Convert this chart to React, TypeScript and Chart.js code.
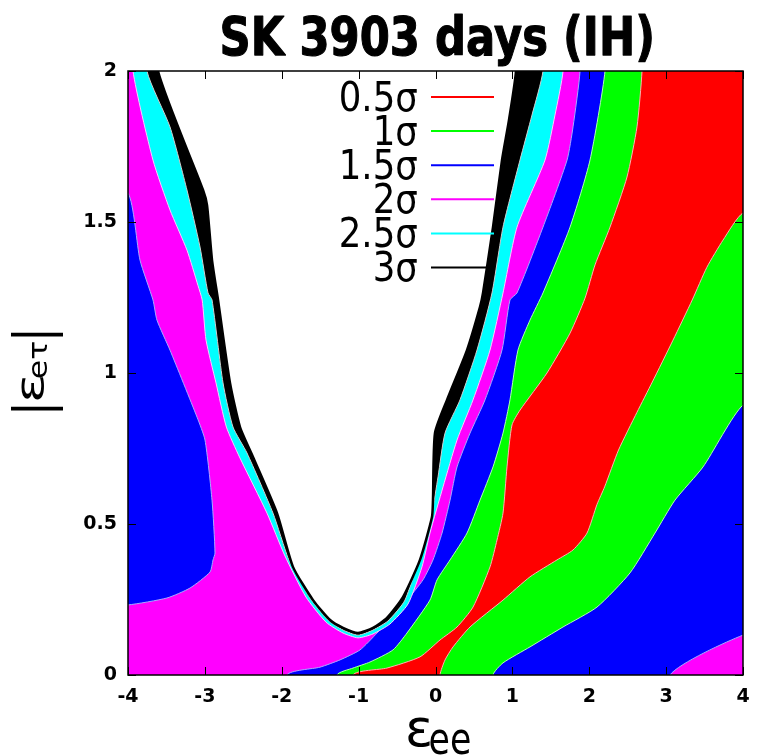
import React, { useEffect, useRef } from 'react';
import { Chart, registerables } from 'chart.js';

Chart.register(...registerables);

// ---------- data ----------
const titleText = 'SK 3903 days (IH)';

const xTicks = [-4, -3, -2, -1, 0, 1, 2, 3, 4];
const xTickLabels = ['-4', '-3', '-2', '-1', '0', '1', '2', '3', '4'];
const yTicks = [0, 0.5, 1, 1.5, 2];
const yTickLabels = ['0', '0.5', '1', '1.5', '2'];

const legendLabels = ['0.5σ', '1σ', '1.5σ', '2σ', '2.5σ', '3σ'];
const legendColors = ['#ff0000', '#00ff00', '#0000ff', '#ff00ff', '#00ffff', '#000000'];

type P = [number, number];

// 3 sigma contour (edge of the excluded white region), left arm top -> bottom -> right arm top
const contour3: P[] = [
  [-3.61, 2.0], [-3.024, 1.606], [-2.972, 1.556], [-2.907, 1.374], [-2.829, 1.242],
  [-2.673, 0.967], [-2.543, 0.821], [-2.374, 0.722], [-2.062, 0.536], [-1.854, 0.358],
  [-1.593, 0.248], [-1.372, 0.182], [-1.203, 0.156], [-1.008, 0.139], [-0.813, 0.156],
  [-0.631, 0.189], [-0.423, 0.258], [-0.202, 0.381], [-0.046, 0.523], [-0.033, 0.579],
  [-0.007, 0.801], [0.15, 0.911], [0.41, 1.076], [0.579, 1.219], [0.618, 1.265],
  [0.748, 1.483], [0.865, 1.705], [0.956, 1.838], [1.047, 2.0],
];

// 2.5 sigma contour
const contour25: P[] = [
  [-3.753, 2.0], [-3.454, 1.815], [-3.233, 1.606], [-3.063, 1.417], [-2.959, 1.265],
  [-2.907, 1.242], [-2.764, 0.967], [-2.634, 0.821], [-2.452, 0.735], [-2.114, 0.536],
  [-1.906, 0.381], [-1.633, 0.255], [-1.398, 0.182], [-1.203, 0.149], [-1.008, 0.132],
  [-0.813, 0.149], [-0.618, 0.179], [-0.397, 0.248], [-0.137, 0.447], [-0.046, 0.536],
  [0.033, 0.656], [0.124, 0.801], [0.319, 0.911], [0.54, 1.076], [0.735, 1.265],
  [0.878, 1.483], [1.099, 1.705], [1.255, 1.854], [1.398, 2.0],
];

// 2 sigma contour
const contour2: P[] = [
  [-3.935, 2.0], [-3.675, 1.705], [-3.454, 1.54], [-3.233, 1.407], [-3.09, 1.29],
  [-3.035, 1.242], [-2.985, 1.109], [-2.855, 0.967], [-2.72, 0.821], [-2.55, 0.722],
  [-2.192, 0.536], [-1.958, 0.394], [-1.685, 0.258], [-1.424, 0.175], [-1.203, 0.139],
  [-1.008, 0.123], [-0.813, 0.136], [-0.592, 0.169], [-0.358, 0.235], [-0.176, 0.358],
  [-0.072, 0.47], [0.098, 0.623], [0.28, 0.778], [0.488, 0.911], [0.709, 1.076],
  [0.878, 1.265], [1.06, 1.483], [1.424, 1.705], [1.554, 1.854], [1.659, 2.0],
];

// 1.5 sigma contour, left island (from left edge round to left edge)
const contour15Island: P[] = [
  [-4.0, 1.596], [-3.844, 1.374], [-3.675, 1.242], [-3.623, 1.175], [-3.454, 1.076],
  [-3.102, 0.854], [-2.998, 0.778], [-2.907, 0.579], [-2.868, 0.404], [-2.894, 0.381],
  [-2.933, 0.341], [-3.193, 0.288], [-3.493, 0.255], [-4.0, 0.232],
];

// 1.5 sigma contour, main band edge (top -> bottom)
const contour15Band: P[] = [
  [1.88, 2.0], [1.789, 1.815], [1.711, 1.705], [1.398, 1.483], [1.06, 1.265],
  [0.969, 1.242], [0.865, 1.076], [0.644, 0.911], [0.449, 0.801], [0.28, 0.689],
  [0.189, 0.579], [0.085, 0.47], [-0.033, 0.381], [-0.163, 0.315], [-0.371, 0.248],
  [-0.761, 0.139], [-0.982, 0.083], [-1.242, 0.05], [-1.502, 0.026], [-1.932, 0.0],
];

// 1.5 sigma contour, lower right corner (right edge -> bottom)
const contour15Corner: P[] = [[4.0, 0.132], [3.05, 0.0]];

// 1 sigma contours
const contour1Left: P[] = [
  [2.205, 2.0], [2.01, 1.705], [1.75, 1.483], [1.398, 1.265], [1.229, 1.175],
  [1.073, 1.076], [0.969, 0.911], [0.878, 0.801], [0.748, 0.689], [0.579, 0.579],
  [0.41, 0.47], [0.189, 0.381], [0.02, 0.315], [-0.072, 0.248], [-0.371, 0.139],
  [-0.553, 0.083], [-0.852, 0.043], [-1.073, 0.023], [-1.281, 0.0],
];
const contour1Right: P[] = [
  [4.0, 0.894], [3.48, 0.689], [3.115, 0.579], [2.855, 0.47], [2.53, 0.338],
  [2.101, 0.225], [1.659, 0.159], [1.229, 0.093], [0.878, 0.04], [0.748, 0.0],
];

// 0.5 sigma contours
const contour05Left: P[] = [
  [2.686, 2.0], [2.621, 1.815], [2.491, 1.649], [2.27, 1.483], [2.075, 1.358],
  [1.945, 1.248], [1.75, 1.132], [1.45, 1.0], [1.099, 0.877], [0.995, 0.828],
  [0.93, 0.689], [0.878, 0.536], [0.8, 0.447], [0.709, 0.358], [0.488, 0.225],
  [0.28, 0.159], [0.059, 0.116], [-0.202, 0.06], [-0.631, 0.023], [-1.073, 0.0],
];
const contour05Right: P[] = [
  [4.0, 1.53], [3.74, 1.44], [3.53, 1.35], [3.34, 1.242], [3.09, 1.109],
  [2.82, 0.97], [2.621, 0.87], [2.381, 0.745], [2.2, 0.623], [2.101, 0.565],
  [1.971, 0.47], [1.789, 0.414], [1.58, 0.381], [1.229, 0.325], [0.878, 0.248],
  [0.449, 0.159], [0.228, 0.093], [0.124, 0.05], [0.059, 0.0],
];

// ---------- polygon builders ----------
const TOP = 2.2;
const BOT = -0.2;
const LEFT = -4.4;
const RIGHT = 4.4;

const toPts = (arr: P[]) => arr.map(([x, y]) => ({ x, y }));

const uShape = (c: P[]): P[] => [[c[0][0], TOP], ...c, [c[c.length - 1][0], TOP]];

const band = (leftLine: P[], rightLine: P[]): P[] => {
  const lt = leftLine[0];
  const lb = leftLine[leftLine.length - 1];
  const rr = rightLine[0];
  const rb = rightLine[rightLine.length - 1];
  return [
    [lt[0], TOP], ...leftLine, [lb[0], BOT], [rb[0], BOT],
    ...[...rightLine].reverse(), [RIGHT, rr[1]], [RIGHT, TOP],
  ];
};

const island = (c: P[]): P[] => [[LEFT, c[0][1]], ...c, [LEFT, c[c.length - 1][1]]];

const FONT = '"DejaVu Sans", "Liberation Sans", sans-serif';

function drawFit(
  ctx: CanvasRenderingContext2D, text: string, font: string,
  inkLeft: number, baseline: number, inkWidth: number, stroke = 0,
) {
  ctx.save();
  ctx.font = font;
  ctx.textAlign = 'left';
  ctx.textBaseline = 'alphabetic';
  const m = ctx.measureText(text);
  const w = m.actualBoundingBoxLeft + m.actualBoundingBoxRight;
  const sx = w > 0 ? inkWidth / w : 1;
  ctx.translate(inkLeft, baseline);
  ctx.scale(sx, 1);
  ctx.fillText(text, m.actualBoundingBoxLeft, 0);
  if (stroke > 0) {
    ctx.lineWidth = stroke;
    ctx.strokeStyle = ctx.fillStyle as string;
    ctx.lineJoin = 'round';
    ctx.strokeText(text, m.actualBoundingBoxLeft, 0);
  }
  ctx.restore();
}

const decorPlugin = {
  id: 'decor',
  afterDraw(chart: any) {
    const ctx: CanvasRenderingContext2D = chart.ctx;
    const { left, right, top, bottom } = chart.chartArea;
    const xs = chart.scales.x;
    const ys = chart.scales.y;
    ctx.save();
    // inward tick marks on all sides
    ctx.strokeStyle = '#000';
    ctx.lineWidth = 1;
    const tl = 8;
    ctx.beginPath();
    xTicks.forEach((v) => {
      const px = Math.round(xs.getPixelForValue(v)) + 0.5;
      ctx.moveTo(px, bottom); ctx.lineTo(px, bottom - tl);
      ctx.moveTo(px, top); ctx.lineTo(px, top + tl);
    });
    yTicks.forEach((v) => {
      const py = Math.round(ys.getPixelForValue(v)) + 0.5;
      ctx.moveTo(left, py); ctx.lineTo(left + tl, py);
      ctx.moveTo(right, py); ctx.lineTo(right - tl, py);
    });
    ctx.stroke();
    // frame
    ctx.lineWidth = 1.5;
    ctx.strokeRect(left, top, right - left, bottom - top);

    // legend
    ctx.fillStyle = '#000';
    const lfont = `40px ${FONT}`;
    ctx.font = lfont;
    const ref = ctx.measureText(legendLabels[0]);
    const refW = ref.actualBoundingBoxLeft + ref.actualBoundingBoxRight;
    const sx = 77 / refW;
    legendLabels.forEach((lab, i) => {
      const ly = 97 + 34.1 * i;
      ctx.font = lfont;
      const m = ctx.measureText(lab);
      const w = (m.actualBoundingBoxLeft + m.actualBoundingBoxRight) * sx;
      drawFit(ctx, lab, lfont, 417.5 - w, ly + 13.5, w);
      ctx.strokeStyle = legendColors[i];
      ctx.lineWidth = 2;
      ctx.beginPath();
      ctx.moveTo(431, ly); ctx.lineTo(494, ly);
      ctx.stroke();
    });

    // title
    ctx.fillStyle = '#000';
    drawFit(ctx, titleText, `bold 54px ${FONT}`, 222, 55, 430, 1.2);

    // x axis title: epsilon_ee
    drawFit(ctx, 'ε', `52px ${FONT}`, 408, 746, 22);
    drawFit(ctx, 'ee', `45px ${FONT}`, 430, 754, 40);

    // y axis title: |epsilon_etau| rotated
    ctx.save();
    ctx.rotate(-Math.PI / 2);
    drawFit(ctx, '|', `52px ${FONT}`, -411, 49.7, 4.5);
    drawFit(ctx, 'ε', `38px ${FONT}`, -400, 43, 23);
    drawFit(ctx, 'eτ', `27px ${FONT}`, -378, 47, 36);
    drawFit(ctx, '|', `52px ${FONT}`, -337, 49.7, 4.5);
    ctx.restore();

    ctx.restore();
  },
};

export default function App() {
  const ref = useRef<HTMLCanvasElement | null>(null);

  useEffect(() => {
    if (!ref.current) return;
    const mk = (poly: P[], bg: string, border: string, bw: number, order: number, tension = 0.2) => ({
      data: toPts(poly),
      backgroundColor: bg,
      borderColor: border,
      borderWidth: bw,
      fill: 'shape',
      pointRadius: 0,
      pointHoverRadius: 0,
      tension,
      clip: 0,
      order,
    });
    const datasets = [
      mk(uShape(contour3), '#ffffff', '#000000', 2.5, 0),
      mk(uShape(contour25), '#000000', '#cfcfcf', 1, 1),
      mk(uShape(contour2), '#00ffff', '#ffc8ff', 1, 2),
      mk(band(contour05Left, contour05Right), '#ff0000', '#ffb0b0', 1, 3),
      mk(band(contour1Left, contour1Right), '#00ff00', '#b0ffb0', 1, 4),
      mk(band(contour15Band, contour15Corner), '#0000ff', '#a8a8ff', 1, 5),
      mk(island(contour15Island), '#0000ff', '#a8a8ff', 1, 6),
      mk([[LEFT, BOT], [RIGHT, BOT], [RIGHT, TOP], [LEFT, TOP]], '#ff00ff', '#ff00ff', 0, 7, 0),
    ];
    const tickFont = { family: FONT, size: 19, weight: 'bold' as const };
    const chart = new Chart(ref.current, {
      type: 'line',
      data: { datasets: datasets as any },
      options: {
        animation: false,
        responsive: false,
        devicePixelRatio: 1,
        events: [],
        layout: { padding: { left: 0, right: 15, top: 71, bottom: 0 } },
        plugins: { legend: { display: false }, tooltip: { enabled: false }, title: { display: false } },
        scales: {
          x: {
            type: 'linear',
            min: -4,
            max: 4,
            afterFit: (s: any) => { s.height = 81; s.paddingLeft = 0; s.paddingRight = 0; },
            afterBuildTicks: (s: any) => { s.ticks = xTicks.map((v) => ({ value: v })); },
            ticks: {
              font: tickFont,
              color: '#000',
              padding: 11,
              maxRotation: 0,
              autoSkip: false,
              callback: (v: any) => {
                const i = xTicks.indexOf(Number(v));
                return i >= 0 ? xTickLabels[i] : '';
              },
            },
            grid: { display: false, drawTicks: false },
            border: { display: false },
          },
          y: {
            type: 'linear',
            min: 0,
            max: 2,
            afterFit: (s: any) => { s.width = 128; s.paddingTop = 0; s.paddingBottom = 0; },
            afterBuildTicks: (s: any) => { s.ticks = yTicks.map((v) => ({ value: v })); },
            ticks: {
              font: tickFont,
              color: '#000',
              padding: 11,
              autoSkip: false,
              callback: (v: any) => {
                const i = yTicks.indexOf(Number(v));
                return i >= 0 ? yTickLabels[i] : '';
              },
            },
            grid: { display: false, drawTicks: false },
            border: { display: false },
          },
        },
      } as any,
      plugins: [decorPlugin],
    });
    return () => chart.destroy();
  }, []);

  return (
    <div style={{ position: 'fixed', left: 0, top: 0, width: 758, height: 756, background: '#fff' }}>
      <canvas ref={ref} width={758} height={756} style={{ width: 758, height: 756, display: 'block' }} />
    </div>
  );
}
